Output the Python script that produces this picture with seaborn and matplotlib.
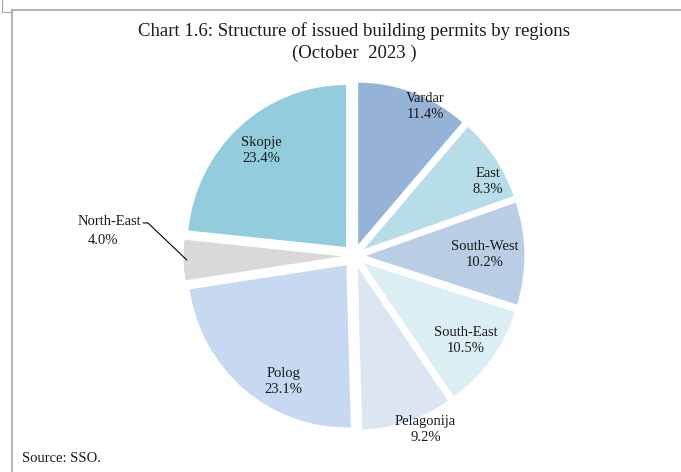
import numpy as np
import matplotlib
matplotlib.use("Agg")
import matplotlib.pyplot as plt
from matplotlib.lines import Line2D
import seaborn as sns

# Daten
regions = ["Vardar", "East", "South-West", "South-East", "Pelagonija", "Polog", "North-East", "Skopje"]
shares = [11.4, 8.3, 10.2, 10.5, 9.2, 23.1, 4.0, 23.4]
colors = ["#95B3D7", "#B7DEE8", "#B9CDE5", "#DAEEF3", "#DCE6F2", "#C6D9F1", "#D9D9D9", "#93CDDD"]
# Abstand der Beschriftung vom Mittelpunkt (relativ zum Radius) und Winkelkorrektur
label_dist = [0.95, 0.89, 0.75, 0.80, 1.09, 0.82, None, 0.80]
label_turn = [-6, -6, 0, 0, 5, 11, 0, 0]

sns.set_theme(style="white")
plt.rcParams["font.family"] = ["Liberation Serif", "DejaVu Serif"]

fig = plt.figure(figsize=(6.81, 4.72), dpi=100)
W, H = 681, 472

# Achse: Radius 1 = 162 px vertikal, leicht gestaucht horizontal (wie im Original)
r_px_y = 162
r_px_x = 158.5
lim = 1.2
side_x = 2 * lim * r_px_x
side_y = 2 * lim * r_px_y
cx, cy = 354, 256
ax = fig.add_axes([(cx - side_x / 2) / W, (H - cy - side_y / 2) / H, side_x / W, side_y / H])

explode = [0.075] * len(shares)
wedges, _ = ax.pie(shares, colors=colors, startangle=90, counterclock=False,
                   explode=explode, labels=None, wedgeprops=dict(linewidth=0))
ax.set_xlim(-lim, lim)
ax.set_ylim(-lim, lim)
ax.set_aspect("auto")
ax.axis("off")

txt_col = "#1a1a1a"
fs = 10.5

# Beschriftungen
for w, name, val, d, turn in zip(wedges, regions, shares, label_dist, label_turn):
    ang = np.deg2rad((w.theta1 + w.theta2) / 2)
    x0, y0 = w.center
    if d is None:
        # North-East mit Hinweislinie
        ex = x0 + 0.98 * np.cos(ang)
        ey = y0 + 0.98 * np.sin(ang)
        ax.plot([ex, -1.30, -1.33], [ey, 0.204, 0.204], color="black", lw=0.8, clip_on=False)
        ax.text(-1.345, 0.21, name, ha="right", va="center", fontsize=fs, color=txt_col)
        ax.text(-1.585, 0.095, f"{val:.1f}%", ha="center", va="center", fontsize=fs, color=txt_col)
        continue
    a = ang + np.deg2rad(turn)
    x = x0 + d * np.cos(a)
    y = y0 + d * np.sin(a)
    ax.text(x, y, f"{name}\n{val:.1f}%", ha="center", va="center", fontsize=fs,
            color=txt_col, linespacing=1.3)

fig.text(354 / W, 1 - 31 / H, "Chart 1.6: Structure of issued building permits by regions",
         ha="center", va="center", fontsize=13.5, color=txt_col)
fig.text(354 / W, 1 - 53 / H, "(October  2023 )", ha="center", va="center", fontsize=13.5, color=txt_col)
fig.text(22 / W, 1 - 459 / H, "Source: SSO.", ha="left", va="center", fontsize=10.5, color=txt_col)

# Rahmen
fc = "#A6A6A6"
fig.add_artist(Line2D([12 / W, 1], [1 - 10 / H, 1 - 10 / H], color=fc, lw=1.2))
fig.add_artist(Line2D([12 / W, 12 / W], [0, 1 - 10 / H], color=fc, lw=1.2))
fig.add_artist(Line2D([2 / W, 2 / W], [1, 1 - 12 / H], color=fc, lw=0.8))
fig.add_artist(Line2D([2 / W, 12 / W], [1 - 12 / H, 1 - 12 / H], color=fc, lw=0.8))

fig.savefig("out.png", dpi=100)
